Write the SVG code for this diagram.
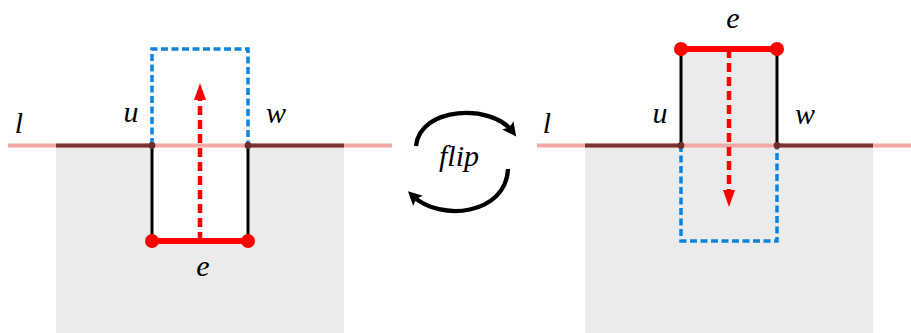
<svg xmlns="http://www.w3.org/2000/svg" width="911" height="333" viewBox="0 0 911 333">
  <style>
    .region { fill: #ebebeb; stroke: none; }
    .lpink { stroke: #f5a8a8; stroke-width: 4; fill: none; }
    .ldark { stroke: #7a3434; stroke-width: 4; fill: none; }
    .dot { fill: #6e2e2e; }
    .blk { stroke: #000; stroke-width: 3; fill: none; }
    .blue { stroke: #0a84dc; stroke-width: 3.5; fill: none; stroke-dasharray: 7 3.5; }
    .edge { stroke: #ff0000; stroke-width: 6; fill: none; }
    .vtx { fill: #ff0000; }
    .rarrow { stroke: #ff0000; stroke-width: 4.5; fill: none; stroke-dasharray: 9 5; }
    .rhead { fill: #ff0000; }
    .lbl { font-family: "Liberation Serif", "DejaVu Serif", serif; font-style: italic; font-size: 30px; fill: #000; text-anchor: middle; }
    .flipline { stroke: #000; stroke-width: 4.3; fill: none; marker-end: url(#ah); }
  </style>
  <defs>
    <marker id="ah" markerUnits="userSpaceOnUse" markerWidth="20" markerHeight="20" viewBox="0 0 20 20" refX="8" refY="10" orient="auto">
      <path d="M15,10 L1,3 Q5,10 1,17 Z" fill="#000"/>
    </marker>
  </defs>

  <g id="left-panel">
    <path class="region" d="M56,145 H152 V241 H248 V145 H344 V333 H56 Z"/>
    <path class="blue" d="M152,145 V49 H248 V145"/>
    <line class="blk" x1="152" y1="145" x2="152" y2="241"/>
    <line class="blk" x1="248" y1="145" x2="248" y2="241"/>
    <line class="lpink" x1="8" y1="145.5" x2="392" y2="145.5"/>
    <line class="ldark" x1="56" y1="145.5" x2="152" y2="145.5"/>
    <line class="ldark" x1="248" y1="145.5" x2="344" y2="145.5"/>
    <circle class="dot" cx="152" cy="145.5" r="3.4"/>
    <circle class="dot" cx="248" cy="145.5" r="3.4"/>
    <line class="edge" x1="152" y1="241" x2="248" y2="241"/>
    <circle class="vtx" cx="152" cy="241" r="7"/>
    <circle class="vtx" cx="248" cy="241" r="7"/>
    <line class="rarrow" x1="200" y1="241" x2="200" y2="99"/>
    <polygon class="rhead" points="200,83 194,100 206,100"/>
    <text class="lbl" x="19" y="133">l</text>
    <text class="lbl" x="131" y="122">u</text>
    <text class="lbl" x="276" y="123">w</text>
    <text class="lbl" x="203" y="276">e</text>
  </g>

  <g id="flip">
    <g id="connectors">
      <path class="flipline" d="M416,146 C420,106 492,104 512,131"/>
      <path class="flipline" d="M508,169 C506,215 440,222 413,196"/>
    </g>
    <text class="lbl" x="459" y="166">flip</text>
  </g>

  <g id="right-panel">
    <path class="region" d="M585,145 H681 V49 H777 V145 H873 V333 H585 Z"/>
    <path class="blue" d="M681,145 V241 H777 V145"/>
    <line class="blk" x1="681" y1="49" x2="681" y2="145"/>
    <line class="blk" x1="777" y1="49" x2="777" y2="145"/>
    <line class="lpink" x1="537" y1="145.5" x2="911" y2="145.5"/>
    <line class="ldark" x1="585" y1="145.5" x2="681" y2="145.5"/>
    <line class="ldark" x1="777" y1="145.5" x2="873" y2="145.5"/>
    <circle class="dot" cx="681" cy="145.5" r="3.4"/>
    <circle class="dot" cx="777" cy="145.5" r="3.4"/>
    <line class="edge" x1="681" y1="49" x2="777" y2="49"/>
    <circle class="vtx" cx="681" cy="49" r="7"/>
    <circle class="vtx" cx="777" cy="49" r="7"/>
    <line class="rarrow" x1="729" y1="49" x2="729" y2="191"/>
    <polygon class="rhead" points="729,207 723,190 735,190"/>
    <text class="lbl" x="547" y="133">l</text>
    <text class="lbl" x="660" y="123">u</text>
    <text class="lbl" x="805" y="124">w</text>
    <text class="lbl" x="733" y="28">e</text>
  </g>
</svg>
